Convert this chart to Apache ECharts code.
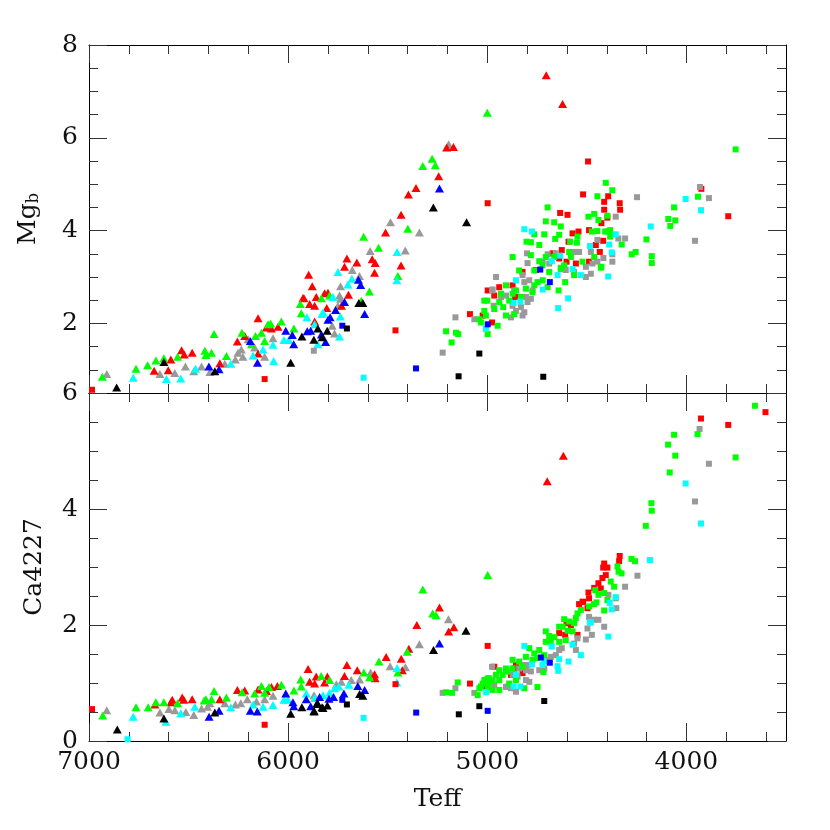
<!DOCTYPE html>
<html><head><meta charset="utf-8">
<script src="https://cdn.jsdelivr.net/npm/echarts@6/dist/echarts.min.js"></script>
<style>html,body{margin:0;padding:0;background:#fff}#c{width:830px;height:830px}</style>
</head><body><div id="c"></div>
<script>
// ---- tick values ----
const teffMajor = [4000, 5000, 6000, 7000];
const teffMinor = [3600, 3800, 4000, 4200, 4400, 4600, 4800, 5000, 5200, 5400, 5600, 5800, 6000, 6200, 6400, 6600, 6800, 7000];
const mgMajor = [2, 4, 6, 8];
const mgMinor = [1, 1.5, 2, 2.5, 3, 3.5, 4, 4.5, 5, 5.5, 6, 6.5, 7, 7.5];
const caMajor = [0, 2, 4, 6];
const caMinor = [0.5, 1, 1.5, 2, 2.5, 3, 3.5, 4, 4.5, 5, 5.5];

// ---- Mg_b panel: triangles [Teff, Mgb] ----
const mgTriRed = [[6673,0.98],[6602,0.99],[6589,1.22],[6535,1.42],[6522,1.33],[6482,1.37],[6343,1.14],[6255,1.61],[6218,1.73],[6151,2.11],[6151,1.35],[6109,1.91],[6084,1.89],[6051,1.93],[5926,2.54],
 [5170,5.80],[5204,5.79],[5244,5.17],[5358,4.92],[5396,4.78],[5433,4.34],[5511,3.96],[5578,3.38],[5563,3.30],[5705,3.40],[5655,3.31],[5717,3.22],[5433,3.25],[5566,3.09],[5897,3.05],[5879,2.80],[5800,2.66],[5817,2.65],[5697,2.62],[5921,2.55],[5859,2.57],[5892,2.42],[5867,2.38],[5806,2.33],[5732,2.38],[5867,2.04],
 [4704,7.35],[4622,6.73]];
const mgTriGreen = [[6933,0.85],[6764,1.02],[6706,1.10],[6664,1.20],[6624,1.25],[6555,1.28],[6418,1.41],[6413,1.32],[6385,1.37],[6372,1.77],[6310,1.30],[6232,1.80],[6184,1.55],[6164,1.73],[6134,1.80],[6101,1.98],[6088,2.00],[6118,1.62],[6034,2.04],[5971,1.89],[5939,2.42],[5934,2.22],
 [5324,5.39],[5277,5.55],[5261,5.41],[5399,4.04],[5621,3.87],[5546,3.63],[5449,3.02],[5592,2.69],[5833,2.54],[5792,2.60],[5633,2.49],[5000,6.54]];
const mgTriGray = [[6911,0.91],[6644,0.91],[6569,0.93],[6516,1.07],[6474,0.97],[6435,1.07],[6393,0.95],[6318,1.13],[6265,1.22],[6252,1.37],[6235,1.44],[6227,1.28],[6201,1.66],[6168,1.48],[6118,1.28],[6076,1.68],
 [5194,5.86],[5486,4.18],[5341,3.96],[5588,3.56],[5412,3.57],[5678,3.15],[5642,3.02],[5737,2.80],[5742,2.60],[5737,2.53],[5750,2.38],[5779,1.95],[5767,1.78]];
const mgTriCyan = [[6778,0.83],[6611,0.80],[6539,0.81],[6465,1.02],[6288,1.13],[6176,1.31],[6126,1.44],[6076,1.54],[6073,1.19],[6021,1.64],[5997,1.64],
 [5453,3.54],[5454,2.93],[5750,3.11],[5680,2.96],[5700,2.84],[5775,2.57],[5825,2.24],[5906,2.13],[5738,2.15],[5830,2.20],[5867,1.98],[5851,1.55],[5742,1.72]];
const mgTriBlue = [[6398,1.07],[6347,1.01],[6190,1.62],[6154,1.15],[6012,1.84],[5979,1.75],[5972,1.55],
 [5240,4.91],[5647,2.94],[5636,2.83],[5717,2.46],[5762,2.29],[5616,2.20],[5789,2.13],[5800,2.08],[5904,1.83],[5887,1.84],[5833,1.76],[5812,1.60]];
const mgTriBlack = [[6861,0.62],[6624,1.17],[6368,0.97],[5987,1.15],[5931,1.72],
 [5271,4.50],[5104,4.18],[5645,2.44],[5625,2.44],[5851,1.89],[5804,1.84],[5871,1.65],[5829,1.70]];

// ---- Mg_b panel: squares [Teff, Mgb] ----
const mgSqRed = [[6985,0.57],[6118,0.80],[4998,4.59],[5461,1.85],[5087,2.20],[4494,5.49],[3925,4.90],[3790,4.31],
 [4519,4.78],[4634,4.38],[4597,4.34],[4413,4.62],[4393,4.74],[4335,4.59],[4333,4.45],[4572,3.94],[4542,3.98],[4489,4.01],[4427,4.16],[4455,3.69],[4418,3.78],[4435,3.54],[4626,3.58],[4592,3.76],[4672,3.51],[4602,3.33],[4555,3.29],[4489,3.33],[4756,3.15],[4823,3.11],[4873,2.82],[4940,2.78],[4998,2.71],[4965,2.60],[4976,2.02],[4860,2.57],[5023,2.17],[4413,4.45],[4397,4.28],[4639,3.40]];
const mgSqGreen = [[5207,1.83],[5179,1.59],[5157,1.80],[5146,1.77],
 [3753,5.75],[3942,4.73],[4062,4.50],[4091,4.25],[4056,4.22],[4081,4.10],[4201,3.81],[4174,3.45],[4174,3.30],[4275,3.49],[4255,3.54],[4325,3.70],[4442,4.23],[4383,4.01],[4430,3.20],
 [4405,5.03],[4372,4.87],[4447,4.74],[4697,4.50],[4463,4.36],[4492,4.30],[4397,4.32],[4706,4.20],[4664,4.18],[4631,4.09],[4764,3.92],[4714,3.92],[4639,3.91],[4659,3.82],[4547,3.87],[4475,3.98],[4447,3.99],[4408,3.98],[4388,3.98],[4803,3.76],[4781,3.75],[4739,3.69],[4584,3.76],[4550,3.74],[4383,3.87],
 [4873,3.43],[4781,3.47],[4739,3.34],[4706,3.43],[4664,3.43],[4589,3.54],[4580,3.43],[4522,3.33],[4463,3.43],[4427,3.22],[4840,3.14],[4764,3.14],[4723,3.25],[4689,3.11],[4631,3.17],[4614,3.25],[4609,2.89],[4564,3.04],
 [4906,2.82],[4856,2.71],[4806,2.75],[4764,2.82],[4748,2.89],[4722,2.93],[4697,2.78],[4642,2.71],[4931,2.64],[4873,2.64],[4773,2.67],[5015,2.49],[5000,2.49],[4940,2.46],[4890,2.49],[4831,2.57],[5015,2.27],[4965,2.31],[4920,2.35],[4906,2.17],[4865,2.20],[5007,2.17],[5040,2.09],[4948,1.95],[4998,1.77],[5032,2.02]];
const mgSqGray = [[5871,1.41],[5224,1.37],[5160,2.13],[5065,2.09],[4956,3.00],[4976,2.71],
 [3932,4.94],[3887,4.70],[4248,4.72],[3957,3.78],[4308,3.83],[4342,3.83],[4372,3.49],
 [4355,4.30],[4397,3.98],[4447,3.80],[4480,3.54],[4417,3.41],[4372,3.33],[4447,3.33],[4472,3.29],[4505,3.22],[4480,3.07],[4505,3.00],[4539,3.54],[4556,3.54],[4572,3.54],[4697,3.49],[4689,3.29],[4656,3.51],[4631,3.20],[4606,3.15],[4564,3.11],[4801,3.51],[4798,3.30],[4722,3.33],[4823,3.04],[4789,2.93],[4814,2.89],[4973,2.73],[4906,2.60],[4865,2.71],[4806,2.57],[4781,2.53],[4798,2.46],[4873,2.38],[4856,2.27],[4831,2.35],[4881,2.13],[4823,2.17],[4814,2.24],[4968,2.38],[4931,2.57],[4773,2.71]];
const mgSqCyan = [[5621,0.83],[4004,4.68],[3927,4.44],[4179,4.09],[4393,3.01],
 [4814,4.03],[4776,3.98],[4484,3.67],[4388,3.70],[4355,3.92],[4375,3.53],[4634,3.46],[4676,3.34],[4572,3.17],[4530,3.04],[4647,3.04],[4856,2.93],[4722,2.73],[4594,2.54],[4644,2.33],[4834,2.47],[4868,2.44],[5007,1.88]];
const mgSqBlue = [[5728,1.95],[5358,1.03],[4734,3.16],[4686,2.89],[4998,1.98]];
const mgSqBlack = [[5705,1.89],[5144,0.86],[5040,1.35],[4719,0.85]];

// ---- Ca4227 panel: triangles [Teff, Ca4227] ----
const caTriRed = [[6669,0.63],[6589,0.67],[6582,0.71],[6532,0.75],[6524,0.71],[6482,0.72],[6343,0.72],[6255,0.88],[6218,0.87],[6151,0.89],[6109,0.86],[6084,0.93],[6054,0.95],[5900,1.24],[5892,1.02],[5867,0.99],[5859,1.11],
 [5240,2.30],[5354,2.00],[5168,1.96],[5194,1.89],[5394,1.59],[5432,1.42],[5508,1.45],[5427,1.22],[5705,1.31],[5653,1.22],[5566,1.15],[5563,1.08],[5717,1.12],[5803,1.11],[5817,1.01],
 [4699,4.48],[4618,4.92]];
const caTriGreen = [[6931,0.44],[6764,0.58],[6703,0.58],[6664,0.67],[6624,0.67],[6555,0.65],[6422,0.70],[6413,0.72],[6372,0.86],[6385,0.72],[6310,0.75],[6231,0.84],[6168,0.82],[6134,0.95],[6118,0.83],[6096,0.93],[6034,0.97],[5971,0.87],[5937,1.06],[5934,0.94],[5834,1.12],
 [4998,2.86],[5324,2.61],[5274,2.20],[5257,2.17],[5402,1.54],[5544,1.37],[5449,1.18],[5620,1.18],[5591,1.10],[5792,1.05]];
const caTriGray = [[6911,0.53],[6644,0.49],[6599,0.55],[6569,0.53],[6514,0.50],[6474,0.45],[6435,0.56],[6405,0.59],[6393,0.65],[6318,0.65],[6265,0.63],[6238,0.65],[6205,0.72],[6159,0.68],[6118,0.72],[6076,0.78],[5870,0.79],
 [5195,2.10],[5341,1.67],[5488,1.29],[5411,1.27],[5586,1.18],[5641,1.06],[5683,1.05],[5733,1.02],[5758,0.98]];
const caTriCyan = [[6778,0.42],[6614,0.33],[6539,0.48],[6469,0.59],[6288,0.58],[6176,0.63],[6126,0.59],[6076,0.62],[6021,0.71],[6001,0.71],[5909,0.82],[5867,0.74],
 [5453,1.26],[5745,0.94],[5695,0.97],[5767,0.91],[5792,0.83],[5825,0.79],[5454,1.01]];
const caTriBlue = [[6397,0.42],[6347,0.52],[6190,0.52],[6155,0.51],[6012,0.82],[5976,0.67],[5972,0.60],[5909,0.72],[5842,0.76],[5887,0.60],
 [5240,1.68],[5650,0.95],[5616,0.88],[5720,0.82],[5772,0.76],[5795,0.73]];
const caTriBlack = [[6858,0.20],[6624,0.39],[6368,0.49],[5987,0.47],[5931,0.58],[5855,0.65],[5870,0.52],[5830,0.58],
 [5107,1.90],[5270,1.57],[5641,0.81],[5625,0.78],[5850,0.64],[5825,0.57],[5803,0.61],[5870,0.51]];

// ---- Ca4227 panel: squares [Teff, Ca4227] ----
const caSqRed = [[6985,0.55],[6118,0.28],[5461,0.98],[4998,1.64],[5087,0.99],
 [4442,2.72],[4430,2.63],[4492,2.56],[4489,2.46],[4539,2.36],[4522,2.40],[4497,2.29],[4602,2.03],[4580,2.00],[4639,1.86],[4609,1.83],[4547,1.83],[4865,1.25],[4856,1.31],[4881,1.14],[4823,1.17],[5007,1.05],[5023,0.94],[4965,1.28],
 [3603,5.67],[3927,5.56],[3790,5.45],[4335,3.19],[4338,3.10],[4413,3.06],[4397,2.99],[4418,2.99],[4405,2.86],[4422,2.81],[4463,2.64],[4519,2.40]];
const caSqGreen = [[5207,0.84],[5177,0.83],[5148,1.01],[5048,0.79],[5040,0.91],[5023,0.99],[5015,1.05],[4998,1.08],[4990,0.99],[4973,1.04],
 [4380,2.75],[4363,2.66],[4458,2.60],[4442,2.52],[4413,2.55],[4397,2.43],[4452,2.39],[4489,2.32],[4464,2.36],[4413,2.25],[4547,2.20],[4530,2.26],[4555,2.12],[4614,2.10],[4589,2.06],[4564,2.03],[4622,1.97],[4597,1.90],[4572,1.89],[4639,1.97],
 [4706,1.89],[4689,1.81],[4664,1.79],[4681,1.71],[4706,1.71],[4606,1.74],[4639,1.71],[4789,1.60],[4764,1.51],[4739,1.57],[4714,1.48],[4748,1.43],[4773,1.40],[4806,1.45],[4873,1.40],[4840,1.37],[4823,1.28],[4873,1.25],[4906,1.25],[4940,1.22],[4956,1.14],[4923,1.14],[4898,1.20],[4940,1.05],[4990,1.08],[5007,1.02],[4973,0.88],[4998,0.91],[4940,0.88],[5032,0.94],[4748,0.93],[4814,0.91],[4890,0.99],[4856,1.05],[4718,1.19],
 [3656,5.78],[4062,5.28],[3944,5.29],[4092,5.11],[4056,4.92],[3753,4.89],[4084,4.63],[4176,4.10],[4174,3.97],[4204,3.71],[4276,3.14],[4258,3.10],[4346,3.01],[4341,2.92],[4326,2.89]];
const caSqGray = [[5224,0.83],[5160,0.91],[5065,0.83],[4976,1.28],[4965,0.97],[4906,0.93],
 [4308,2.66],[4392,2.52],[4355,2.46],[4352,2.29],[4489,2.14],[4464,2.09],[4442,2.09],[4413,1.97],[4497,1.94],[4475,1.83],[4505,1.75],[4547,1.77],[4564,1.68],[4555,1.57],[4626,1.60],[4639,1.57],[4656,1.48],[4956,1.14],[4906,1.20],[4873,1.14],[4848,1.11],[4840,1.25],[4823,1.31],[4798,1.31],[4806,1.05],[4789,1.02],[4898,0.94],[4856,0.85],[4881,0.91],[4806,1.22],[4781,1.20],[4739,1.22],[4706,1.40],[4681,1.45],[4714,1.25],
 [3934,5.38],[3887,4.78],[3957,4.13],[4246,2.85]];
const caSqCyan = [[6806,0.03],[5621,0.40],[5006,0.84],
 [4355,2.48],[4385,2.38],[4375,2.27],[4485,2.04],[4392,1.80],[4572,1.66],[4530,1.48],[4676,1.63],[4814,1.64],[4639,1.41],[4592,1.37],[4647,1.29],[4644,1.21],[4723,1.31],[4714,1.37],[4776,1.32],[4856,1.14],[4868,0.94],[4834,0.94],
 [4004,4.44],[3927,3.75],[4183,3.12],[4480,2.05]];
const caSqBlue = [[5728,0.71],[5357,0.49],[4998,0.52],[4731,1.44],[4686,1.35]];
const caSqBlack = [[5705,0.63],[5143,0.46],[5040,0.60],[4714,0.69]];

// ---- chart ----
const FONT = 'DejaVu Serif';
const TICK = {color: '#333', width: 1};
const LINE = {color: '#000', width: 1};
const COLORS = {red: '#ff0000', green: '#00ff00', gray: '#999999', cyan: '#00ffff', blue: '#0000ff', black: '#000000'};

const grid = [
  {left: 89, width: 697, top: 45, height: 348},
  {left: 89, width: 697, top: 393, height: 348}
];

function xAxesFor(g) {
  const base = {gridIndex: g, type: 'value', min: 3500, max: 7000, inverse: true,
    splitLine: {show: false}, silent: true};
  const lbl = {show: g === 1, customValues: teffMajor, fontFamily: FONT, fontSize: 25, color: '#111', margin: 9,
    formatter: function (v) { return String(v); }};
  return [
    Object.assign({}, base, {position: 'bottom', axisLine: {show: true, onZero: false, lineStyle: LINE},
      axisTick: {show: true, inside: true, length: 18, customValues: teffMajor, lineStyle: TICK},
      axisLabel: lbl,
      name: g === 1 ? 'Teff' : '', nameLocation: 'middle', nameGap: 46,
      nameTextStyle: {fontFamily: FONT, fontSize: 25, color: '#111'}}),
    Object.assign({}, base, {position: 'bottom', axisLine: {show: false, onZero: false},
      axisTick: {show: true, inside: true, length: 9, customValues: teffMinor, lineStyle: TICK},
      axisLabel: {show: false}}),
    Object.assign({}, base, {position: 'top', axisLine: {show: true, onZero: false, lineStyle: LINE},
      axisTick: {show: true, inside: true, length: 18, customValues: teffMajor, lineStyle: TICK},
      axisLabel: {show: false}}),
    Object.assign({}, base, {position: 'top', axisLine: {show: false, onZero: false},
      axisTick: {show: true, inside: true, length: 9, customValues: teffMinor, lineStyle: TICK},
      axisLabel: {show: false}})
  ];
}

function yAxesFor(g) {
  const major = g === 0 ? mgMajor : caMajor;
  const minor = g === 0 ? mgMinor : caMinor;
  const base = {gridIndex: g, type: 'value', min: g === 0 ? 0.5 : 0, max: g === 0 ? 8 : 6,
    splitLine: {show: false}, silent: true};
  const nameTS = {fontFamily: FONT, fontSize: 25, color: '#111',
    rich: {m: {fontFamily: FONT, fontSize: 25, color: '#111'},
           s: {fontFamily: FONT, fontSize: 16, color: '#111', verticalAlign: 'bottom', padding: [12, 0, 0, 0]}}};
  return [
    Object.assign({}, base, {position: 'left', axisLine: {show: true, onZero: false, lineStyle: LINE},
      axisTick: {show: true, inside: true, length: 18, customValues: major, lineStyle: TICK},
      axisLabel: {show: true, customValues: major, fontFamily: FONT, fontSize: 25, color: '#111', margin: 11},
      name: g === 0 ? '{m|Mg}{s|b}' : 'Ca4227', nameLocation: 'middle', nameRotate: 90, nameGap: g === 0 ? 47 : 42,
      nameTextStyle: nameTS}),
    Object.assign({}, base, {position: 'left', axisLine: {show: false, onZero: false},
      axisTick: {show: true, inside: true, length: 9, customValues: minor, lineStyle: TICK},
      axisLabel: {show: false}}),
    Object.assign({}, base, {position: 'right', axisLine: {show: true, onZero: false, lineStyle: LINE},
      axisTick: {show: true, inside: true, length: 18, customValues: major, lineStyle: TICK},
      axisLabel: {show: false}}),
    Object.assign({}, base, {position: 'right', axisLine: {show: false, onZero: false},
      axisTick: {show: true, inside: true, length: 9, customValues: minor, lineStyle: TICK},
      axisLabel: {show: false}})
  ];
}

function sc(data, shape, color, g) {
  return {type: 'scatter', data: data, symbol: shape === 'tri' ? 'triangle' : 'rect',
    symbolSize: shape === 'tri' ? [9, 8] : 6, xAxisIndex: g * 4, yAxisIndex: g * 4,
    itemStyle: {color: COLORS[color], opacity: 1}, silent: true, animation: false};
}

const series = [
  sc(mgTriGray, 'tri', 'gray', 0), sc(mgTriRed, 'tri', 'red', 0), sc(mgTriGreen, 'tri', 'green', 0),
  sc(mgTriCyan, 'tri', 'cyan', 0), sc(mgTriBlue, 'tri', 'blue', 0), sc(mgTriBlack, 'tri', 'black', 0),
  sc(mgSqRed, 'sq', 'red', 0), sc(mgSqGray, 'sq', 'gray', 0), sc(mgSqGreen, 'sq', 'green', 0),
  sc(mgSqCyan, 'sq', 'cyan', 0), sc(mgSqBlue, 'sq', 'blue', 0), sc(mgSqBlack, 'sq', 'black', 0),
  sc(caTriGray, 'tri', 'gray', 1), sc(caTriRed, 'tri', 'red', 1), sc(caTriGreen, 'tri', 'green', 1),
  sc(caTriCyan, 'tri', 'cyan', 1), sc(caTriBlue, 'tri', 'blue', 1), sc(caTriBlack, 'tri', 'black', 1),
  sc(caSqRed, 'sq', 'red', 1), sc(caSqGray, 'sq', 'gray', 1), sc(caSqGreen, 'sq', 'green', 1),
  sc(caSqCyan, 'sq', 'cyan', 1), sc(caSqBlue, 'sq', 'blue', 1), sc(caSqBlack, 'sq', 'black', 1)
];

const chart = echarts.init(document.getElementById('c'), null, {renderer: 'canvas'});
chart.setOption({
  animation: false,
  backgroundColor: '#ffffff',
  grid: grid,
  xAxis: xAxesFor(0).concat(xAxesFor(1)),
  yAxis: yAxesFor(0).concat(yAxesFor(1)),
  series: series
});
</script></body></html>
